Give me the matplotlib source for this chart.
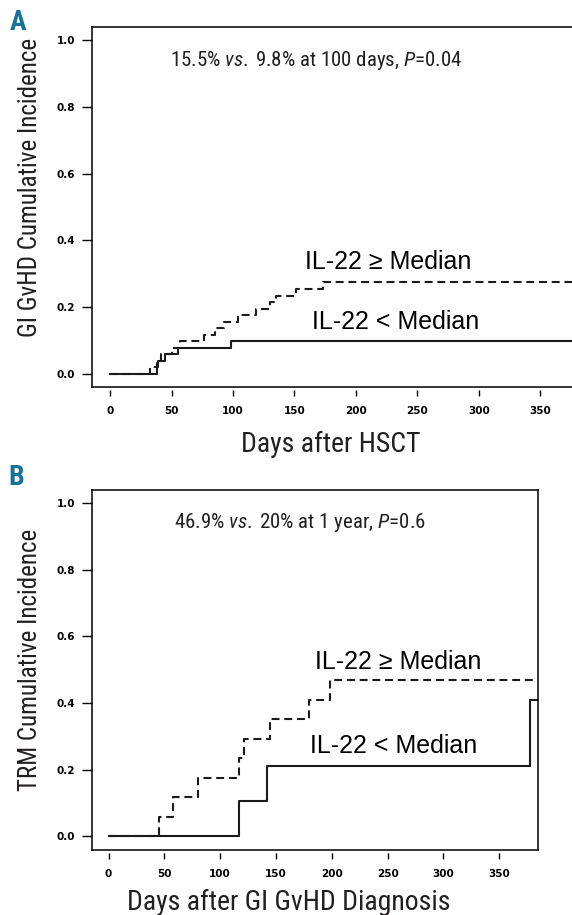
import matplotlib
matplotlib.use("Agg")
import matplotlib.pyplot as plt
from matplotlib import font_manager

# Panel A: GI GvHD cumulative incidence (days after HSCT)
a_high_days = [0, 32, 38, 41, 50, 57, 76, 85, 93, 104, 119, 130, 135, 151, 173, 380]
a_high_ci = [0, 0.020, 0.039, 0.059, 0.078, 0.098, 0.118, 0.137, 0.157, 0.176, 0.196,
             0.216, 0.235, 0.255, 0.275, 0.275]
a_low_days = [0, 38, 39, 45, 55, 98, 380]
a_low_ci = [0, 0.020, 0.039, 0.059, 0.078, 0.098, 0.098]

# Panel B: TRM cumulative incidence (days after GI GvHD diagnosis)
b_high_days = [0, 45, 58, 80, 117, 121, 145, 180, 198, 381]
b_high_ci = [0, 0.059, 0.117, 0.176, 0.234, 0.293, 0.352, 0.410, 0.469, 0.469]
b_low_days = [0, 117, 142, 378, 385]
b_low_ci = [0, 0.105, 0.210, 0.410, 0.410]

xticks = [0, 50, 100, 150, 200, 250, 300, 350]
yticks = [0.0, 0.2, 0.4, 0.6, 0.8, 1.0]
ytick_labels = ["0.0", "0.2", "0.4", "0.6", "0.8", "1.0"]

avail = {f.name for f in font_manager.fontManager.ttflist}
cond = next((n for n in ["Roboto Condensed", "Archivo Narrow", "Liberation Sans Narrow"]
             if n in avail), "Roboto")
plain = "Liberation Sans" if "Liberation Sans" in avail else "DejaVu Sans"

plt.rcParams["mathtext.fontset"] = "custom"
plt.rcParams["mathtext.rm"] = cond
plt.rcParams["mathtext.it"] = cond + ":italic"

W, H = 572, 915
fig = plt.figure(figsize=(W / 100, H / 100), dpi=100)


def px(x, y):
    return x / W, 1 - y / H


def panel(rect, high_days, high_ci, low_days, low_ci):
    ax = fig.add_axes(rect)
    ax.step(high_days, high_ci, where="post", color="#1a1a1a", lw=1.5,
            linestyle=(0, (3.8, 2.3)))
    ax.step(low_days, low_ci, where="post", color="#1a1a1a", lw=1.5)
    ax.set_xlim(-14.8, 384.8)
    ax.set_ylim(-0.04, 1.04)
    for s in ax.spines.values():
        s.set_linewidth(1.1)
    ax.tick_params(axis="x", bottom=False, labelbottom=False)
    ax.set_yticks(yticks)
    ax.set_yticklabels(ytick_labels, fontsize=7.5, fontweight="bold", family="DejaVu Sans")
    ax.tick_params(axis="y", length=7, width=1, pad=5)
    sec = ax.secondary_xaxis(-0.008)
    for s in sec.spines.values():
        s.set_visible(False)
    sec.set_xticks(xticks)
    sec.set_xticklabels([str(t) for t in xticks], fontsize=7.5, fontweight="bold",
                        family="DejaVu Sans")
    sec.tick_params(length=4.5, width=1, pad=7)
    return ax


axA = panel([92 / W, 1 - 387.4 / H, 491 / W, 360.8 / H],
            a_high_days, a_high_ci, a_low_days, a_low_ci)
axB = panel([92 / W, 1 - 849.8 / H, 446 / W, 360.1 / H],
            b_high_days, b_high_ci, b_low_days, b_low_ci)

txt = "#231f20"
blue = "#17729b"

# panel letters
fig.text(*px(10, 30), "A", fontsize=20, fontweight="bold", color=blue, family=cond)
fig.text(*px(8, 485), "B", fontsize=20, fontweight="bold", color=blue, family=cond)

# annotations
fig.text(*px(316, 66), r"15.5% $\mathit{vs.}\;$9.8% at 100 days, $\mathit{P}$=0.04",
         fontsize=15, ha="center", va="baseline", color=txt, family=cond)
fig.text(*px(300, 528), r"46.9% $\mathit{vs.}\;$20% at 1 year, $\mathit{P}$=0.6",
         fontsize=15, ha="center", va="baseline", color=txt, family=cond)

fig.text(*px(305, 269), "IL-22 \u2265 Median", fontsize=18, va="baseline", family=plain)
fig.text(*px(312, 329), "IL-22 < Median", fontsize=18, va="baseline", family=plain)
fig.text(*px(315, 669), "IL-22 \u2265 Median", fontsize=18, va="baseline", family=plain)
fig.text(*px(310, 753), "IL-22 < Median", fontsize=18, va="baseline", family=plain)

# axis titles
fig.text(*px(331, 452), "Days after HSCT", fontsize=20, ha="center", va="baseline",
         color=txt, family=cond)
fig.text(*px(289, 910), "Days after GI GvHD Diagnosis", fontsize=20, ha="center",
         va="baseline", color=txt, family=cond)
fig.text(*px(30, 187), "GI GvHD Cumulative Incidence", fontsize=18, rotation=90,
         ha="center", va="center", color=txt, family=cond)
fig.text(*px(30, 660), "TRM Cumulative Incidence", fontsize=18, rotation=90,
         ha="center", va="center", color=txt, family=cond)

fig.savefig("out.png", dpi=100)
